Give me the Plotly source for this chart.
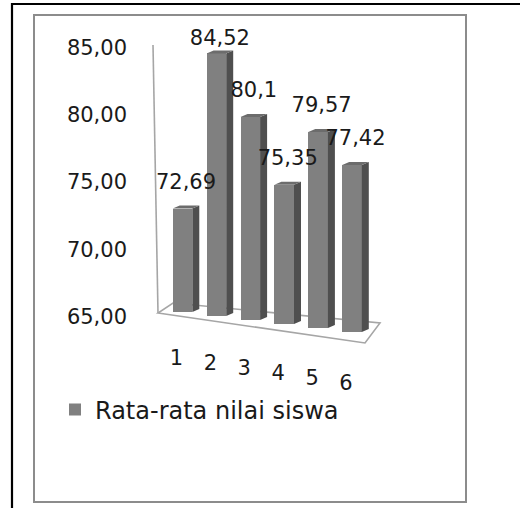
import plotly.graph_objects as go

# ---------------- data ----------------
categories = [1, 2, 3, 4, 5, 6]
category_labels = ["1", "2", "3", "4", "5", "6"]
values = [72.69, 84.52, 80.1, 75.35, 79.57, 77.42]
value_labels = ["72,69", "84,52", "80,1", "75,35", "79,57", "77,42"]
series_name = "Rata-rata nilai siswa"
y_ticks = [65, 70, 75, 80, 85]
y_tick_labels = ["65,00", "70,00", "75,00", "80,00", "85,00"]
y_min = 65

# ---------------- layout / faux-3D projection (pixels) ----------------
W, H = 520, 508
X_C1 = 182.5      # pixel x of first category front-face centre
X_STEP = 33.9     # pixels per category
Y_BASE_PX = 316.5 # pixel y of the axis minimum (back wall)
Y_STEP = 13.45    # pixels per value unit
FACE_HALF_PX = 9.8
DEPTH_DX_PX, DEPTH_DY_PX = 7.0, 3.0
BAR_BOTTOM0_PX, BAR_DROP_PX = 312.0, 4.0
FLOOR_PX = [(158, 313), (365, 343), (380, 323), (173, 303)]  # FL, FR, BR, BL
WALL_TOP_PX = (153, 45)
LABEL_GAP_PX = 25
LABEL_TOP_LIMIT_PX = 40
CAT_LABEL_DX_PX, CAT_LABEL_DY_PX = -6, 44

FONT = "DejaVu Sans"
TXT = "#1a1a1a"
FRONT, SIDE, TOP = "#808080", "#4f4f4f", "#6c6c6c"
LINE_GRAY = "#a6a6a6"


def px_x(px):
    return 1 + (px - X_C1) / X_STEP


def px_y(py):
    return y_min + (Y_BASE_PX - py) / Y_STEP


def x_px(x):
    return X_C1 + (x - 1) * X_STEP


def y_px(y):
    return Y_BASE_PX - (y - y_min) * Y_STEP


hw = FACE_HALF_PX / X_STEP
ddx = DEPTH_DX_PX / X_STEP
ddy = DEPTH_DY_PX / Y_STEP

bases = [px_y(BAR_BOTTOM0_PX + BAR_DROP_PX * i) for i in range(len(categories))]
heights = [v - y_min for v in values]
tops = [b + h for b, h in zip(bases, heights)]

fig = go.Figure()

# front faces
fig.add_trace(go.Bar(x=categories, y=heights, base=bases, width=2 * hw,
                     marker=dict(color=FRONT, line=dict(width=0)),
                     name=series_name, showlegend=True, hoverinfo="skip"))

# side and top faces
sx, sy, tx, ty = [], [], [], []
for c, b, t in zip(categories, bases, tops):
    xl, xr = c - hw, c + hw
    sx += [xr, xr + ddx, xr + ddx, xr, xr, None]
    sy += [b, b + ddy, t + ddy, t, b, None]
    tx += [xl, xr, xr + ddx, xl + ddx, xl, None]
    ty += [t, t, t + ddy, t + ddy, t, None]
fig.add_trace(go.Scatter(x=sx, y=sy, mode="lines", fill="toself", fillcolor=SIDE,
                         line=dict(width=0, color=SIDE), hoverinfo="skip", showlegend=False))
fig.add_trace(go.Scatter(x=tx, y=ty, mode="lines", fill="toself", fillcolor=TOP,
                         line=dict(width=0, color=TOP), hoverinfo="skip", showlegend=False))

# data labels
lx = [c + ddx / 2 for c in categories]
ly = [px_y(max(y_px(t) - LABEL_GAP_PX, LABEL_TOP_LIMIT_PX)) for t in tops]
fig.add_trace(go.Scatter(x=lx, y=ly, mode="text", text=value_labels, textposition="middle center",
                         textfont=dict(family=FONT, size=21, color=TXT), hoverinfo="skip",
                         showlegend=False, cliponaxis=False))

# category labels along slanted front edge
(flx, fly), (frx, fry) = FLOOR_PX[0], FLOOR_PX[1]
cx, cy = [], []
for c in categories:
    px = x_px(c) + CAT_LABEL_DX_PX
    edge = fly + (fry - fly) * (px - flx) / (frx - flx)
    cx.append(px_x(px))
    cy.append(px_y(edge + CAT_LABEL_DY_PX))
fig.add_trace(go.Scatter(x=cx, y=cy, mode="text", text=category_labels, textposition="middle center",
                         textfont=dict(family=FONT, size=21, color=TXT), hoverinfo="skip",
                         showlegend=False, cliponaxis=False))

# floor and wall edge (drawn below all traces)
floor_path = "M " + " L ".join(f"{px_x(px)},{px_y(py)}" for px, py in FLOOR_PX) + " Z"
shapes = [
    dict(type="path", xref="x", yref="y", path=floor_path, layer="below",
         line=dict(color=LINE_GRAY, width=1.6)),
    dict(type="line", xref="x", yref="y", layer="below",
         x0=px_x(WALL_TOP_PX[0]), y0=px_y(WALL_TOP_PX[1]),
         x1=px_x(FLOOR_PX[0][0]), y1=px_y(FLOOR_PX[0][1]),
         line=dict(color=LINE_GRAY, width=1.6)),
    dict(type="rect", xref="paper", yref="paper", x0=12 / W, x1=1.05, y0=1 - 4 / H, y1=-0.05,
         line=dict(color="black", width=2.2)),
    dict(type="rect", xref="paper", yref="paper", x0=34 / W, x1=466 / W, y0=1 - 15 / H, y1=1 - 502 / H,
         line=dict(color="#8c8c8c", width=2)),
]

fig.update_layout(
    width=W, height=H, margin=dict(l=0, r=0, t=0, b=0),
    paper_bgcolor="white", plot_bgcolor="white", template="none",
    shapes=shapes, bargap=0,
    xaxis=dict(range=[px_x(0), px_x(W)], visible=False, fixedrange=True),
    yaxis=dict(range=[px_y(H), px_y(0)], anchor="free", position=127 / W,
               tickvals=y_ticks, ticktext=y_tick_labels, ticks="", showgrid=False,
               zeroline=False, showline=False,
               tickfont=dict(family=FONT, size=21, color=TXT)),
    legend=dict(x=55 / W, y=1 - 410 / H, xanchor="left", yanchor="middle",
                bgcolor="rgba(0,0,0,0)", font=dict(family=FONT, size=24, color=TXT)),
    showlegend=True,
)

fig.write_html("out.html")
